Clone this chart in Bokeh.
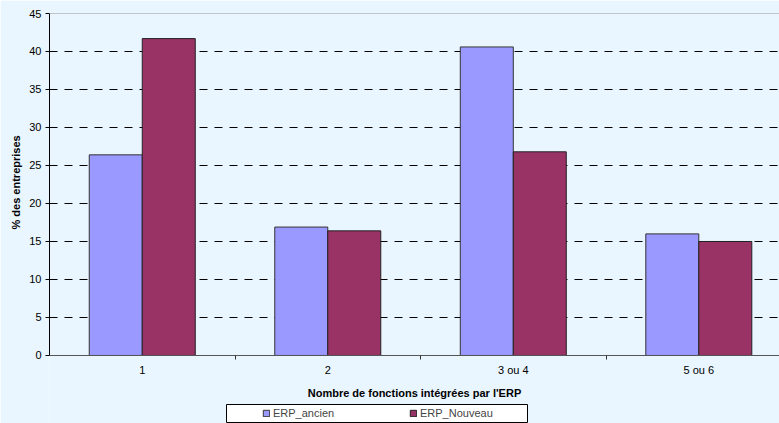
from bokeh.plotting import figure
from bokeh.models import FixedTicker, Legend, LegendItem, Span, ColumnDataSource, Range1d, BoxAnnotation, Title
from bokeh.embed import file_html
from bokeh.resources import INLINE

categories = ["1", "2", "3 ou 4", "5 ou 6"]
erp_ancien = [26.4, 16.9, 40.6, 16.0]
erp_nouveau = [41.7, 16.4, 26.8, 15.0]
y_ticks = [0, 5, 10, 15, 20, 25, 30, 35, 40, 45]
series_names = ["ERP_ancien", "ERP_Nouveau"]
colors = ["#9999FF", "#993366"]

centers = [i + 0.5 for i in range(len(categories))]
bw = 0.2857
src = ColumnDataSource(dict(
    xa=[c - bw / 2 for c in centers],
    xn=[c + bw / 2 for c in centers],
    a=erp_ancien,
    n=erp_nouveau,
))

FONT = "Liberation Sans"
BG = "#e9f5ff"
# frame extends below zero so the legend (drawn inside the frame) is not clipped
Y_MIN = -8.95

p = figure(width=779, height=423, output_backend="svg", toolbar_location=None,
           x_range=Range1d(0, 3.935), y_range=Range1d(Y_MIN, y_ticks[-1]),
           min_border_left=49, min_border_right=0, min_border_top=13, min_border_bottom=0)
p.background_fill_color = BG
p.border_fill_color = BG
p.outline_line_color = None

ra = p.vbar(x="xa", top="a", width=bw, source=src, fill_color=colors[0], line_color="#333333", line_width=1)
rn = p.vbar(x="xn", top="n", width=bw, source=src, fill_color=colors[1], line_color="#222222", line_width=1)

# axes
xa = p.xaxis[0]
xa.fixed_location = 0
xa.ticker = FixedTicker(ticks=centers, minor_ticks=[1, 2, 3])
xa.major_label_overrides = {c: lab for c, lab in zip(centers, categories)}
xa.major_tick_line_color = None
xa.minor_tick_line_color = "#333333"
xa.minor_tick_out = 4
xa.minor_tick_in = 0
xa.axis_line_color = "#555555"
xa.major_label_standoff = 3
xa.axis_label = "Nombre de fonctions intégrées par l'ERP"
xa.axis_label_standoff = 7

ya = p.yaxis[0]
ya.bounds = (0, y_ticks[-1])
ya.ticker = FixedTicker(ticks=y_ticks)
ya.major_tick_out = 4
ya.major_tick_in = 0
ya.minor_tick_line_color = None
ya.axis_line_color = "#000000"
ya.major_tick_line_color = "#000000"
ya.major_label_standoff = 4

for ax in (xa, ya):
    ax.major_label_text_font = FONT
    ax.major_label_text_font_size = "11px"
    ax.major_label_text_color = "#000000"
    ax.axis_label_text_font = FONT
    ax.axis_label_text_font_size = "11px"
    ax.axis_label_text_font_style = "bold"
    ax.axis_label_text_color = "#000000"

# y-axis title as a side title so it can be placed along the 0-45 span
p.add_layout(Title(text="% des entreprises", align="left", offset=194,
                   text_font=FONT, text_font_size="11px", text_font_style="bold",
                   text_color="#000000", standoff=9), "left")

p.xgrid.grid_line_color = None
p.ygrid.ticker = FixedTicker(ticks=y_ticks[1:-1])
p.ygrid.grid_line_color = "#000000"
p.ygrid.grid_line_dash = "8 7"
p.ygrid.grid_line_width = 1

p.add_layout(Span(location=y_ticks[-1], dimension="width", line_color="#909090", line_width=1))

# legend frame (white box with black border)
p.add_layout(BoxAnnotation(left=226, right=527, top=404, bottom=422,
                           left_units="canvas", right_units="canvas",
                           top_units="canvas", bottom_units="canvas",
                           fill_color="#ffffff", fill_alpha=1,
                           line_color="#000000", line_width=1, line_alpha=1))

legend = Legend(items=[LegendItem(label=series_names[0], renderers=[ra]),
                       LegendItem(label=series_names[1], renderers=[rn])],
                orientation="horizontal", location=(213, 4))
legend.background_fill_alpha = 0
legend.border_line_color = None
legend.label_text_font = FONT
legend.label_text_font_size = "11px"
legend.glyph_width = 8
legend.glyph_height = 8
legend.label_standoff = 3
legend.spacing = 74
legend.padding = 0
legend.margin = 0
legend.label_height = 12
legend.label_width = 62
p.add_layout(legend, "center")

open("out.html", "w").write(file_html(p, INLINE))
